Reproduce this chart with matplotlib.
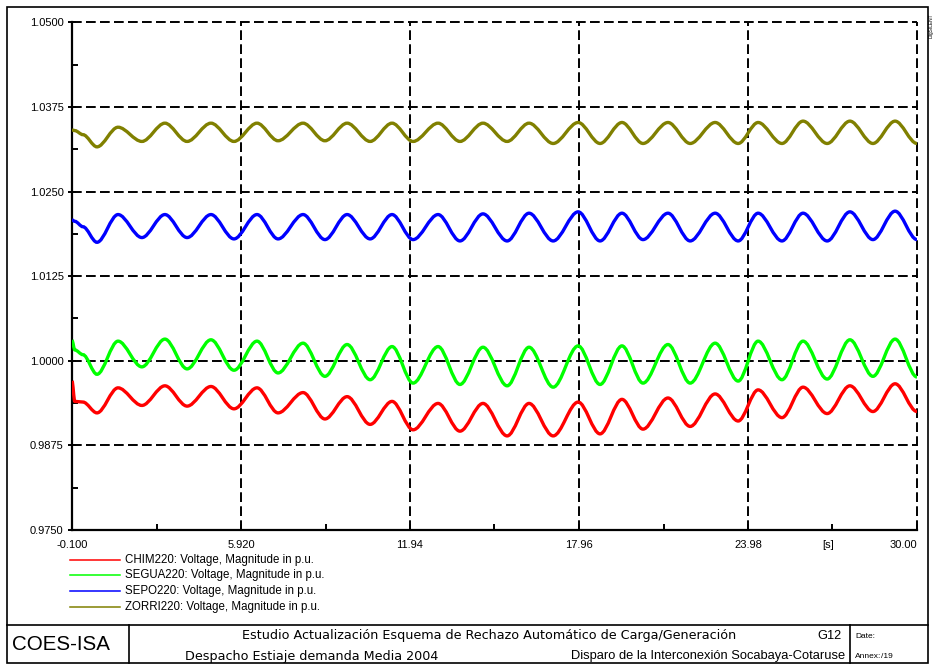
import matplotlib
matplotlib.use('Agg')
import matplotlib.pyplot as plt
import matplotlib.ticker as mticker
from matplotlib.path import Path
from matplotlib.patches import PathPatch, Rectangle
from matplotlib.lines import Line2D

plt.rcParams['font.family'] = ['Liberation Sans', 'DejaVu Sans']

# time of the read-off points [s] (start, extrema, end)
t_s = [-0.10, 0.00, 0.29, 0.79, 1.54, 2.39, 3.21, 4.00, 4.85, 5.67, 6.49, 7.24,
       8.13, 8.91, 9.70, 10.52, 11.30, 12.05, 12.94, 13.72, 14.54, 15.40, 16.18,
       17.04, 17.93, 18.71, 19.49, 20.24, 21.13, 21.92, 22.81, 23.63, 24.34,
       25.19, 25.94, 26.80, 27.61, 28.43, 29.22, 30.00]

chim = [0.9970, 0.9940, 0.9939, 0.9923, 0.9960, 0.9934, 0.9963, 0.9933, 0.9962,
        0.9929, 0.9960, 0.9923, 0.9953, 0.9914, 0.9947, 0.9906, 0.9940, 0.9898,
        0.9937, 0.9896, 0.9937, 0.9889, 0.9937, 0.9889, 0.9939, 0.9892, 0.9943,
        0.9899, 0.9945, 0.9903, 0.9951, 0.9911, 0.9957, 0.9916, 0.9961, 0.9922,
        0.9963, 0.9925, 0.9966, 0.9925]
segua = [1.0030, 1.0016, 1.0009, 0.9980, 1.0029, 0.9991, 1.0032, 0.9988, 1.0031,
         0.9986, 1.0029, 0.9982, 1.0026, 0.9977, 1.0024, 0.9972, 1.0021, 0.9967,
         1.0021, 0.9965, 1.0020, 0.9963, 1.0020, 0.9961, 1.0022, 0.9965, 1.0022,
         0.9967, 1.0024, 0.9967, 1.0026, 0.9970, 1.0029, 0.9972, 1.0029, 0.9973,
         1.0031, 0.9977, 1.0032, 0.9976]
sepo = [1.0208, 1.0206, 1.0198, 1.0175, 1.0216, 1.0182, 1.0216, 1.0182, 1.0216,
        1.0180, 1.0216, 1.0180, 1.0216, 1.0179, 1.0216, 1.0180, 1.0216, 1.0179,
        1.0216, 1.0177, 1.0217, 1.0177, 1.0218, 1.0177, 1.0220, 1.0177, 1.0218,
        1.0179, 1.0218, 1.0177, 1.0218, 1.0177, 1.0218, 1.0177, 1.0218, 1.0177,
        1.0220, 1.0179, 1.0221, 1.0179]
zorri = [1.0341, 1.0340, 1.0334, 1.0316, 1.0345, 1.0324, 1.0351, 1.0324, 1.0351,
         1.0324, 1.0351, 1.0325, 1.0351, 1.0325, 1.0351, 1.0324, 1.0351, 1.0324,
         1.0351, 1.0324, 1.0351, 1.0324, 1.0351, 1.0321, 1.0352, 1.0321, 1.0352,
         1.0321, 1.0352, 1.0321, 1.0352, 1.0321, 1.0352, 1.0321, 1.0354, 1.0321,
         1.0354, 1.0321, 1.0354, 1.0321]

series_names = ['CHIM220: Voltage, Magnitude in p.u.',
                'SEGUA220: Voltage, Magnitude in p.u.',
                'SEPO220: Voltage, Magnitude in p.u.',
                'ZORRI220: Voltage, Magnitude in p.u.']
series_colors = ['#ff0000', '#00ff00', '#0000ff', '#808000']

xticks = [-0.100, 5.920, 11.94, 17.96, 23.98, 30.00]
xticklabels = ['-0.100', '5.920', '11.94', '17.96', '23.98', '30.00']
yticks = [0.9750, 0.9875, 1.0000, 1.0125, 1.0250, 1.0375, 1.0500]
yticklabels = ['%.4f' % v for v in yticks]

W, H = 933, 664
textsize = 8
legendsize = 8.3


def smooth_path(t, v, k=1. / 3):
    # cubic segments with flat tangents at the read-off extrema
    verts = [(t[0], v[0])]
    codes = [Path.MOVETO]
    for i in range(len(t) - 1):
        dt = t[i + 1] - t[i]
        verts += [(t[i] + k * dt, v[i]), (t[i + 1] - k * dt, v[i + 1]), (t[i + 1], v[i + 1])]
        codes += [Path.CURVE4] * 3
    return Path(verts, codes)


fig = plt.figure(figsize=(W / 100., H / 100.), dpi=100, facecolor='white')

# page overlay in pixel coordinates (frame, legend, title block)
ov = fig.add_axes([0, 0, 1, 1])
ov.set_xlim(0, W)
ov.set_ylim(H, 0)
ov.axis('off')

ax = fig.add_axes([72. / W, 1 - 530. / H, 845. / W, 507.7 / H])
ax.set_facecolor('none')

for vals, col in zip([chim, segua, sepo, zorri], series_colors):
    ax.add_patch(PathPatch(smooth_path(t_s, vals), facecolor='none', edgecolor=col,
                           lw=2.4, zorder=3, capstyle='butt'))

ax.set_xlim(xticks[0], xticks[-1])
ax.set_ylim(yticks[0], yticks[-1])

for x in xticks[1:]:
    ax.axvline(x, color='black', lw=1.4, ls=(0, (5, 2.2)), clip_on=False, zorder=2)
for y in yticks[1:]:
    ax.axhline(y, color='black', lw=1.4, ls=(0, (5, 2.2)), clip_on=False, zorder=2)

for side in ['top', 'right']:
    ax.spines[side].set_visible(False)
for side in ['left', 'bottom']:
    ax.spines[side].set_linewidth(1.6)

ax.set_xticks(xticks)
ax.set_xticklabels(xticklabels)
ax.set_yticks(yticks)
ax.set_yticklabels(yticklabels)
ax.xaxis.set_minor_locator(mticker.AutoMinorLocator(2))
ax.yaxis.set_minor_locator(mticker.AutoMinorLocator(2))
ax.tick_params(axis='x', which='both', direction='in', length=4, width=1.4,
               labelsize=textsize, pad=7)
ax.tick_params(axis='y', which='major', direction='inout', length=6, width=1.4,
               labelsize=textsize, pad=3)
ax.tick_params(axis='y', which='minor', direction='in', length=4, width=1.4)
ax.get_xticklabels()[-1].set_horizontalalignment('right')
ax.get_xticklabels()[-1].set_x(xticks[-1] + 0.05)

minor_x = (xticks[-2] + xticks[-1]) / 2.
ax.annotate('[s]', xy=(minor_x, 0), xycoords=('data', 'axes fraction'),
            xytext=(-3.5, -10.6), textcoords='offset points', ha='center', va='center',
            fontsize=textsize)

# legend below the axes
for i, (name, col) in enumerate(zip(series_names, series_colors)):
    y = 559.5 + i * 15.7
    ov.add_line(Line2D([70, 120], [y, y], color=col, lw=1.1))
    ov.text(125, y, name, fontsize=legendsize, va='center', ha='left')

# page frame and title block
frame_kw = dict(color='black', lw=1.2)
ov.add_patch(Rectangle((7, 7), 921, 656, fill=False, ec='black', lw=1.2))
ov.add_line(Line2D([7, 928], [625, 625], **frame_kw))
ov.add_line(Line2D([129, 129], [625, 663], **frame_kw))
ov.add_line(Line2D([850, 850], [625, 663], **frame_kw))

ov.text(12, 645, 'COES-ISA', fontsize=14.8, va='center', ha='left')
ov.text(489, 636, 'Estudio Actualización Esquema de Rechazo Automático de Carga/Generación',
        fontsize=9.2, family='DejaVu Sans', va='center', ha='center')
ov.text(842, 636, 'G12', fontsize=9.2, va='center', ha='right')
ov.text(185, 656.5, 'Despacho Estiaje demanda Media 2004', fontsize=9.2,
        family='DejaVu Sans', va='center', ha='left')
ov.text(845, 656.5, 'Disparo de la Interconexión Socabaya-Cotaruse', fontsize=9.3,
        va='center', ha='right')
ov.text(855, 636, 'Date:', fontsize=6, va='center', ha='left')
ov.text(855, 656.5, 'Annex:', fontsize=6, va='center', ha='left')
ov.text(881, 656.5, '/19', fontsize=6, va='center', ha='left')
ov.text(931, 26, 'DIgSILENT', fontsize=3.5, rotation=90, va='center', ha='center')

fig.savefig('out.png', dpi=100, facecolor='white')
